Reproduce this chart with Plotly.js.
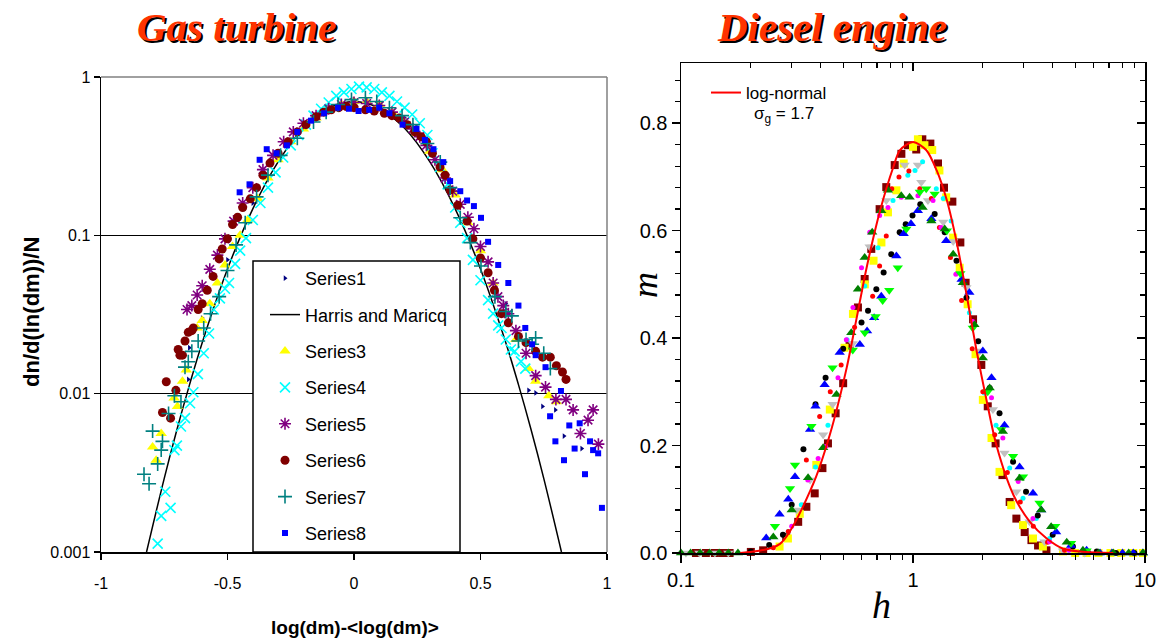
<!DOCTYPE html>
<html><head><meta charset="utf-8">
<script src="https://cdn.plot.ly/plotly-3.0.1.min.js"></script>
<style>html,body{margin:0;padding:0;background:#fff}#chart{width:1164px;height:641px}</style>
</head><body><div id="chart"></div>
<script>
// ---------- Gas turbine (left) ----------
const s1x = [-0.651,-0.655,-0.6,-0.5,-0.4,-0.3,-0.2,-0.1,0,0.1,0.2,0.3,0.4,0.5,0.6,0.69,0.718,0.745,0.796,0.83,0.9];
const s1y = [0.0195,0.0123,0.03,0.07,0.16,0.32,0.5,0.65,0.72,0.68,0.55,0.36,0.19,0.085,0.037,0.0105,0.0101,0.0083,0.0079,0.0054,0.0045];
const hmX = [-0.82,-0.75,-0.7,-0.65,-0.6,-0.5,-0.4,-0.3,-0.2,-0.1,0,0.1,0.2,0.3,0.4,0.5,0.6,0.65,0.7,0.75,0.82];
const hmY = [0.001,0.00292,0.00592,0.0114,0.021,0.0613,0.147,0.291,0.474,0.635,0.7,0.635,0.474,0.291,0.147,0.0613,0.021,0.0114,0.00592,0.00292,0.001];
const s3x = [-0.796,-0.782,-0.762,-0.711,-0.698,-0.678,-0.663,-0.62,-0.60,-0.57,-0.54,-0.51,-0.48,-0.45,-0.42,-0.38,-0.34,-0.30,-0.25,-0.2,-0.15,-0.1,-0.05,0.0,0.05,0.1,0.15,0.2,0.25,0.3,0.35,0.4,0.45,0.5,0.55,0.6,0.64,0.69,0.718,0.77,0.8];
const s3y = [0.0046,0.0038,0.0056,0.0094,0.0083,0.012,0.0141,0.026,0.029,0.037,0.05,0.065,0.085,0.1,0.125,0.17,0.23,0.3,0.39,0.47,0.55,0.62,0.67,0.7,0.7,0.67,0.6,0.52,0.44,0.34,0.26,0.18,0.12,0.08,0.05,0.032,0.022,0.0144,0.012,0.0097,0.0089];
const s4x = [-0.776,-0.762,-0.746,-0.725,-0.71,-0.70,-0.684,-0.668,-0.648,-0.635,-0.617,-0.594,-0.573,-0.554,-0.53,-0.51,-0.494,-0.47,-0.45,-0.427,-0.40,-0.37,-0.34,-0.31,-0.28,-0.25,-0.22,-0.19,-0.16,-0.13,-0.10,-0.07,-0.04,-0.01,0.02,0.05,0.08,0.11,0.14,0.17,0.20,0.23,0.26,0.29,0.31,0.34,0.37,0.40,0.42,0.447,0.47,0.50,0.53,0.55,0.57,0.583,0.60,0.62,0.635,0.66,0.677];
const s4y = [0.00113,0.00169,0.0024,0.0019,0.0044,0.0047,0.0062,0.0070,0.0087,0.0102,0.0133,0.018,0.024,0.034,0.040,0.046,0.05,0.066,0.08,0.096,0.125,0.16,0.2,0.25,0.31,0.37,0.43,0.5,0.57,0.63,0.69,0.76,0.80,0.84,0.87,0.86,0.84,0.80,0.76,0.70,0.64,0.58,0.51,0.43,0.33,0.27,0.21,0.15,0.12,0.096,0.07,0.052,0.039,0.032,0.027,0.026,0.022,0.019,0.0185,0.016,0.0144];
const s5x = [-0.66,-0.641,-0.62,-0.60,-0.57,-0.54,-0.51,-0.476,-0.44,-0.40,-0.36,-0.32,-0.278,-0.24,-0.20,-0.15,-0.10,-0.05,0.0,0.05,0.10,0.15,0.20,0.233,0.26,0.286,0.32,0.36,0.39,0.42,0.45,0.474,0.50,0.53,0.55,0.569,0.59,0.61,0.64,0.68,0.718,0.757,0.798,0.838,0.866,0.895,0.925,0.945,0.966];
const s5y = [0.034,0.036,0.042,0.048,0.061,0.075,0.095,0.123,0.16,0.2,0.26,0.32,0.39,0.45,0.51,0.57,0.63,0.67,0.69,0.68,0.66,0.6,0.52,0.47,0.42,0.37,0.3,0.23,0.19,0.157,0.13,0.11,0.085,0.068,0.05,0.041,0.036,0.032,0.025,0.018,0.013,0.011,0.0092,0.0092,0.0079,0.0056,0.0068,0.0079,0.0048];
const s6x = [-0.757,-0.742,-0.725,-0.704,-0.695,-0.688,-0.678,-0.668,-0.655,-0.641,-0.635,-0.616,-0.60,-0.58,-0.557,-0.533,-0.521,-0.50,-0.48,-0.46,-0.44,-0.41,-0.385,-0.36,-0.332,-0.30,-0.26,-0.224,-0.19,-0.15,-0.12,-0.09,-0.06,-0.03,0.0,0.045,0.08,0.12,0.15,0.179,0.21,0.24,0.265,0.286,0.31,0.34,0.36,0.38,0.41,0.447,0.47,0.50,0.53,0.555,0.583,0.61,0.65,0.68,0.718,0.745,0.776,0.80,0.824,0.838];
const s6y = [0.0076,0.0119,0.0070,0.0105,0.019,0.0175,0.0175,0.0215,0.0244,0.025,0.026,0.034,0.037,0.045,0.055,0.071,0.082,0.095,0.117,0.13,0.15,0.17,0.2,0.24,0.286,0.33,0.39,0.45,0.5,0.56,0.6,0.62,0.64,0.65,0.64,0.62,0.61,0.59,0.57,0.55,0.5,0.45,0.42,0.39,0.33,0.27,0.24,0.193,0.155,0.123,0.095,0.072,0.058,0.045,0.032,0.028,0.023,0.021,0.0185,0.017,0.017,0.015,0.0137,0.0123];
const s7x = [-0.83,-0.81,-0.796,-0.776,-0.762,-0.757,-0.733,-0.71,-0.684,-0.668,-0.655,-0.641,-0.616,-0.594,-0.567,-0.533,-0.50,-0.466,-0.43,-0.385,-0.34,-0.29,-0.224,-0.16,-0.11,-0.063,-0.01,0.045,0.09,0.14,0.19,0.233,0.29,0.341,0.38,0.42,0.46,0.502,0.557,0.60,0.624,0.65,0.68,0.704,0.718,0.75,0.776];
const s7y = [0.0031,0.0027,0.0058,0.0036,0.0044,0.005,0.0075,0.0097,0.0089,0.0147,0.0159,0.0185,0.0215,0.026,0.032,0.041,0.06,0.087,0.12,0.175,0.24,0.32,0.41,0.52,0.6,0.67,0.72,0.74,0.7,0.64,0.57,0.5,0.38,0.29,0.2,0.129,0.09,0.064,0.041,0.033,0.031,0.0215,0.022,0.0205,0.0225,0.018,0.0144];
const s8x = [-0.452,-0.413,-0.373,-0.345,-0.306,-0.265,-0.224,-0.17,-0.118,-0.063,-0.02,0.018,0.06,0.1,0.14,0.192,0.247,0.28,0.314,0.353,0.38,0.42,0.447,0.474,0.502,0.53,0.57,0.61,0.65,0.677,0.704,0.718,0.757,0.775,0.796,0.818,0.83,0.851,0.872,0.892,0.913,0.933,0.945,0.965,0.98];
const s8y = [0.187,0.21,0.30,0.35,0.33,0.37,0.45,0.53,0.59,0.64,0.63,0.61,0.62,0.64,0.59,0.5,0.47,0.4,0.35,0.29,0.22,0.19,0.166,0.153,0.129,0.091,0.065,0.05,0.036,0.026,0.0205,0.0175,0.0147,0.0072,0.005,0.0104,0.0038,0.0063,0.0045,0.0065,0.0031,0.005,0.0044,0.0042,0.0019];
const gtYTicks = [0.001,0.01,0.1,1];
const gtYLabels = ['0.001','0.01','0.1','1'];
const gtXTicks = [-1,-0.5,0,0.5,1];
const gtXLabels = ['-1','-0.5','0','0.5','1'];

// ---------- Diesel engine (right) ----------
const lnX = [0.18,0.267,0.37,0.438,0.518,0.572,0.631,0.721,0.822,0.879,1.0,1.14,1.265,1.4,1.54,1.7,1.88,2.08,2.29,2.71,3.19,3.77,4.44,5.5,7.3];
const lnY = [0,0.017,0.127,0.22,0.345,0.438,0.531,0.637,0.718,0.75,0.765,0.75,0.712,0.656,0.58,0.482,0.376,0.282,0.2,0.108,0.058,0.027,0.008,0.002,0];
const maroonX = [0.116,0.128,0.14,0.151,0.162,0.2,0.226,0.284,0.32,0.347,0.377,0.407,0.43,0.464,0.5,0.533,0.579,0.619,0.661,0.718,0.767,0.834,0.891,0.951,1.033,1.097,1.188,1.282,1.36,1.478,1.6,1.686,1.815,1.97,2.1,2.27,2.43,2.61,2.79,3.03,3.24,3.46,3.76];
const maroonY = [0,0,0,0,0,0.002,0.005,0.03,0.058,0.086,0.111,0.158,0.204,0.26,0.316,0.386,0.457,0.51,0.566,0.64,0.681,0.722,0.743,0.759,0.751,0.77,0.762,0.725,0.68,0.654,0.578,0.503,0.435,0.35,0.273,0.204,0.145,0.095,0.064,0.039,0.024,0.014,0.005];
const yellowX = [0.266,0.289,0.325,0.383,0.438,0.507,0.551,0.62,0.676,0.731,0.78,0.848,0.912,1.0,1.05,1.12,1.21,1.3,1.39,1.49,1.59,1.72,1.86,2.0,2.18,2.36,2.65,2.98,3.29,3.63,4.43,5.0,5.6,6.3,7.1,7.9,8.9,9.8];
const yellowY = [0.012,0.027,0.073,0.164,0.267,0.382,0.445,0.5,0.544,0.578,0.634,0.675,0.725,0.756,0.77,0.759,0.75,0.712,0.662,0.587,0.531,0.463,0.37,0.285,0.214,0.151,0.089,0.052,0.027,0.012,0.003,0,0,0,0,0,0,0];
const grayX = [0.105,0.12,0.14,0.16,0.315,0.36,0.41,0.45,0.55,0.65,0.767,0.92,1.05,1.086,1.16,1.35,1.49,1.70,1.94,2.21,2.48,2.79,3.18,3.69,4.43,5.5];
const grayY = [0,0,0,0,0.08,0.136,0.22,0.277,0.39,0.57,0.656,0.722,0.722,0.69,0.656,0.616,0.58,0.494,0.376,0.267,0.186,0.114,0.058,0.021,0.004,0];
const cyanX = [0.29,0.33,0.38,0.43,0.52,0.62,0.707,0.82,0.95,1.02,1.1,1.26,1.35,1.46,1.75,2.03,2.28,2.61,2.98,3.4,3.88,4.7];
const cyanY = [0.04,0.09,0.16,0.238,0.397,0.497,0.568,0.656,0.703,0.712,0.728,0.678,0.66,0.618,0.447,0.298,0.238,0.158,0.102,0.064,0.027,0.005];
const redX = [0.25,0.29,0.347,0.396,0.44,0.49,0.56,0.67,0.718,0.767,0.81,0.87,0.96,1.07,1.2,1.3,1.45,1.62,1.8,2.0,2.25,2.55,2.9,3.3,3.8,4.5];
const redY = [0.01,0.04,0.173,0.254,0.3,0.35,0.42,0.478,0.534,0.59,0.678,0.7,0.711,0.678,0.66,0.606,0.55,0.47,0.38,0.3,0.22,0.15,0.095,0.05,0.02,0.005];
const magentaX = [0.3,0.352,0.39,0.42,0.475,0.516,0.551,0.6,0.651,0.718,0.78,0.89,1.05,1.22,1.32,1.53,1.81,2.18,2.44,2.84,3.29,3.88,4.7];
const magentaY = [0.05,0.136,0.176,0.198,0.326,0.397,0.457,0.531,0.597,0.628,0.643,0.662,0.665,0.656,0.606,0.519,0.431,0.289,0.214,0.133,0.064,0.021,0.005];
const blackX = [0.2,0.24,0.275,0.30,0.337,0.38,0.42,0.5,0.6,0.64,0.695,0.747,0.806,0.876,0.93,0.995,1.075,1.24,1.37,1.54,1.70,1.91,2.14,2.36,2.70,3.07,3.45,4.0,4.89,6.2,7.5,9.0];
const blackY = [0.003,0.015,0.034,0.09,0.193,0.277,0.326,0.38,0.429,0.451,0.491,0.522,0.556,0.597,0.612,0.628,0.649,0.631,0.597,0.544,0.475,0.394,0.307,0.26,0.17,0.114,0.07,0.034,0.012,0.003,0,0];
const blueX = [0.233,0.266,0.29,0.31,0.36,0.38,0.416,0.483,0.59,0.634,0.68,0.73,0.848,0.912,0.98,1.05,1.2,1.39,1.62,1.75,2.0,2.18,2.48,2.88,3.29,3.57,4.14,4.8,5.6,6.4,7.2,8.0,8.9,9.8];
const blueY = [0.028,0.072,0.1,0.142,0.23,0.273,0.313,0.373,0.388,0.413,0.438,0.478,0.553,0.594,0.613,0.637,0.622,0.581,0.509,0.485,0.376,0.326,0.238,0.16,0.111,0.08,0.039,0.014,0.005,0,0,0,0,0];
const limeX = [0.254,0.295,0.31,0.365,0.45,0.55,0.62,0.69,0.74,0.79,0.86,0.936,1.07,1.14,1.24,1.4,1.6,1.81,2.1,2.4,2.7,2.98,3.51,4.1,4.8,5.6];
const limeY = [0.05,0.12,0.164,0.236,0.345,0.378,0.41,0.44,0.47,0.489,0.531,0.603,0.672,0.678,0.668,0.6,0.52,0.419,0.3,0.23,0.18,0.142,0.093,0.05,0.018,0.004];
const dgreenX = [0.1,0.11,0.121,0.133,0.146,0.16,0.176,0.25,0.3,0.353,0.41,0.468,0.542,0.579,0.619,0.667,0.73,0.78,0.89,0.967,1.1,1.2,1.37,1.49,1.64,1.84,2.0,2.14,2.44,2.88,3.57,3.94,4.6,5.4,6.3,7.3,8.5,9.8];
const dgreenY = [0,0,0,0,0,0,0,0.03,0.08,0.14,0.196,0.295,0.41,0.491,0.55,0.597,0.637,0.675,0.665,0.662,0.643,0.618,0.603,0.556,0.503,0.425,0.363,0.307,0.226,0.139,0.08,0.049,0.02,0.005,0,0,0,0];
const deXTicks = [0.1,1,10];
const deXLabels = ['0.1','1','10'];

const W = 1164, H = 641;
const px = v => v / W, py = v => 1 - v / H;

function gt(name, x, y, marker) {
  return {type:'scatter', mode:'markers', name, x, y, xaxis:'x', yaxis:'y',
    marker, legend:'legend', legendgroup:name, hoverinfo:'x+y'};
}
function de(x, y, marker) {
  return {type:'scatter', mode:'markers', x, y, xaxis:'x2', yaxis:'y2', marker,
    showlegend:false, cliponaxis:false, hoverinfo:'x+y'};
}
const traces = [
  gt('Series1', s1x, s1y, {symbol:'triangle-right', size:5, color:'#000080'}),
  {type:'scatter', mode:'lines', name:'Harris and Maricq', x:hmX, y:hmY, xaxis:'x', yaxis:'y',
   line:{color:'#000', width:1.5, shape:'spline'}, legend:'legend', legendgroup:'hm'},
  gt('Series3', s3x, s3y, {symbol:'triangle-up', size:10, color:'#FFFF00'}),
  gt('Series4', s4x, s4y, {symbol:'x-thin-open', size:10, color:'#00FFFF', line:{width:1.6, color:'#00FFFF'}}),
  gt('Series5', s5x, s5y, {symbol:'asterisk-open', size:10, color:'#800080', line:{width:1.6, color:'#800080'}}),
  gt('Series6', s6x, s6y, {symbol:'circle', size:9, color:'#800000'}),
  gt('Series7', s7x, s7y, {symbol:'cross-thin-open', size:10, color:'#008080', line:{width:1.6, color:'#008080'}}),
  gt('Series8', s8x, s8y, {symbol:'square', size:6, color:'#0000FF'}),
  de(maroonX, maroonY, {symbol:'square', size:8, color:'#800000'}),
  de(yellowX, yellowY, {symbol:'square', size:8, color:'#FFFF00'}),
  de(grayX, grayY, {symbol:'triangle-down', size:9, color:'#C0C0C0'}),
  de(cyanX, cyanY, {symbol:'circle', size:5, color:'#00FFFF'}),
  de(redX, redY, {symbol:'circle', size:5, color:'#FF0000'}),
  de(magentaX, magentaY, {symbol:'circle', size:5, color:'#FF00FF'}),
  de(blackX, blackY, {symbol:'circle', size:6, color:'#000000'}),
  de(blueX, blueY, {symbol:'triangle-up', size:9, color:'#0000FF'}),
  de(limeX, limeY, {symbol:'triangle-down', size:9, color:'#00FF00'}),
  de(dgreenX, dgreenY, {symbol:'triangle-up', size:9, color:'#008000'}),
  {type:'scatter', mode:'lines', name:'log-normal', x:lnX, y:lnY, xaxis:'x2', yaxis:'y2',
   line:{color:'#FF0000', width:2, shape:'spline', smoothing:0.8}, legend:'legend2', cliponaxis:false},
  {type:'scatter', mode:'markers', x:[1], y:[0.5], xaxis:'x3', yaxis:'y3', marker:{opacity:0}, showlegend:false, hoverinfo:'skip'}
];

const sans = 'Liberation Sans, Arial, sans-serif';
const serif = 'Liberation Serif, Times New Roman, serif';
const L = {left:101, right:607, top:77, bottom:552};
const R = {left:681, right:1145, top:63, bottom:553};
const minorLog = [0.2,0.3,0.4,0.5,0.6,0.7,0.8,0.9,2,3,4,5,6,7,8,9];

function note(x, y, text, font, extra) {
  return Object.assign({xref:'paper', yref:'paper', x:px(x), y:py(y), xanchor:'center', yanchor:'middle',
    text, showarrow:false, font}, extra || {});
}

const layout = {
  width:W, height:H, margin:{l:0,r:0,t:0,b:0}, paper_bgcolor:'#fff', plot_bgcolor:'rgba(0,0,0,0)',
  showlegend:true,
  xaxis:{domain:[px(L.left), px(L.right)], range:[-1,1], tickvals:gtXTicks, ticktext:gtXLabels,
    showgrid:false, zeroline:false, showline:true, linecolor:'#000', linewidth:1.5,
    ticks:'outside', ticklen:6, tickwidth:1.5, tickcolor:'#000', ticklabelstandoff:10,
    tickfont:{family:sans, size:16, color:'#000'}, anchor:'y'},
  yaxis:{domain:[py(L.bottom), py(L.top)], type:'log', range:[-3,0], tickvals:gtYTicks, ticktext:gtYLabels,
    showgrid:true, gridcolor:'#000', gridwidth:1.3, zeroline:false, showline:true, linecolor:'#000', linewidth:1.5,
    ticks:'outside', ticklen:6, tickwidth:1.5, tickcolor:'#000',
    tickfont:{family:sans, size:16, color:'#000'}, anchor:'x'},
  xaxis2:{domain:[px(R.left), px(R.right)], type:'log', range:[-1,1], tickvals:deXTicks, ticktext:deXLabels,
    showgrid:false, zeroline:false, showline:true, linecolor:'#000', linewidth:1.5,
    ticks:'outside', ticklen:8, tickwidth:1.5, tickcolor:'#000',
    minor:{tickvals:minorLog, ticks:'outside', ticklen:5, tickwidth:1.3, tickcolor:'#000', showgrid:false},
    tickfont:{family:sans, size:20, color:'#000'}, anchor:'y2'},
  yaxis2:{domain:[py(R.bottom), py(R.top)], range:[0,0.912], dtick:0.2, tick0:0, tickformat:'.1f',
    showgrid:false, zeroline:false, showline:true, linecolor:'#000', linewidth:1.5,
    ticks:'outside', ticklen:8, tickwidth:1.5, tickcolor:'#000',
    minor:{dtick:0.04, tick0:0, ticks:'outside', ticklen:5, tickwidth:1.3, tickcolor:'#000', showgrid:false},
    tickfont:{family:sans, size:20, color:'#000'}, anchor:'x2'},
  xaxis3:{overlaying:'x2', side:'top', type:'log', range:[-1,1], tickvals:deXTicks, showticklabels:false,
    showgrid:false, zeroline:false, showline:true, linecolor:'#000', linewidth:1.5,
    ticks:'inside', ticklen:8, tickwidth:1.5, tickcolor:'#000',
    minor:{tickvals:minorLog, ticks:'inside', ticklen:5, tickwidth:1.3, tickcolor:'#000', showgrid:false},
    anchor:'y3'},
  yaxis3:{overlaying:'y2', side:'right', range:[0,0.912], dtick:0.2, tick0:0, showticklabels:false,
    showgrid:false, zeroline:false, showline:true, linecolor:'#000', linewidth:1.5,
    ticks:'inside', ticklen:8, tickwidth:1.5, tickcolor:'#000',
    minor:{dtick:0.04, tick0:0, ticks:'inside', ticklen:5, tickwidth:1.3, tickcolor:'#000', showgrid:false},
    anchor:'x3'},
  legend:{x:px(265), y:py(260), xanchor:'left', yanchor:'top', bgcolor:'rgba(0,0,0,0)', borderwidth:0,
    font:{family:sans, size:18, color:'#000'}, traceorder:'grouped', tracegroupgap:10, itemsizing:'trace'},
  legend2:{x:px(706), y:py(93), xanchor:'left', yanchor:'middle', bgcolor:'rgba(0,0,0,0)', borderwidth:0,
    font:{family:sans, size:17, color:'#000'}},
  shapes:[
    {type:'line', xref:'paper', yref:'paper', x0:px(L.left), x1:px(L.right), y0:py(L.top), y1:py(L.top), line:{color:'#808080', width:1.5}, layer:'above'},
    {type:'line', xref:'paper', yref:'paper', x0:px(L.right), x1:px(L.right), y0:py(L.top), y1:py(L.bottom), line:{color:'#808080', width:1.5}, layer:'above'},
    {type:'rect', xref:'paper', yref:'paper', x0:px(253), x1:px(460), y0:py(261), y1:py(552), fillcolor:'#fff', line:{color:'#000', width:1.5}, layer:'above'}
  ],
  annotations:[
    note(236, 27, '<b><i>Gas turbine</i></b>', {family:serif, size:41, color:'#000'}, {xshift:2, yshift:-2}),
    note(236, 27, '<b><i>Gas turbine</i></b>', {family:serif, size:41, color:'#FF3300'}),
    note(832, 27, '<b><i>Diesel engine</i></b>', {family:serif, size:41, color:'#000'}, {xshift:2, yshift:-2}),
    note(832, 27, '<b><i>Diesel engine</i></b>', {family:serif, size:41, color:'#FF3300'}),
    note(355, 627, '<b>log(dm)-&lt;log(dm)&gt;</b>', {family:sans, size:19, color:'#000'}),
    note(31, 312, '<b>dn/d(ln(dm))/N</b>', {family:sans, size:22, color:'#000'}, {textangle:-90}),
    note(881, 605, '<i>h</i>', {family:serif, size:38, color:'#000'}),
    note(645, 285, '<i>m</i>', {family:serif, size:36, color:'#000'}, {textangle:-90}),
    note(752, 115, 'σ<sub>g</sub> = 1.7', {family:sans, size:17, color:'#000'}, {xanchor:'left'})
  ]
};
Plotly.newPlot('chart', traces, layout, {staticPlot:true});
</script></body></html>
